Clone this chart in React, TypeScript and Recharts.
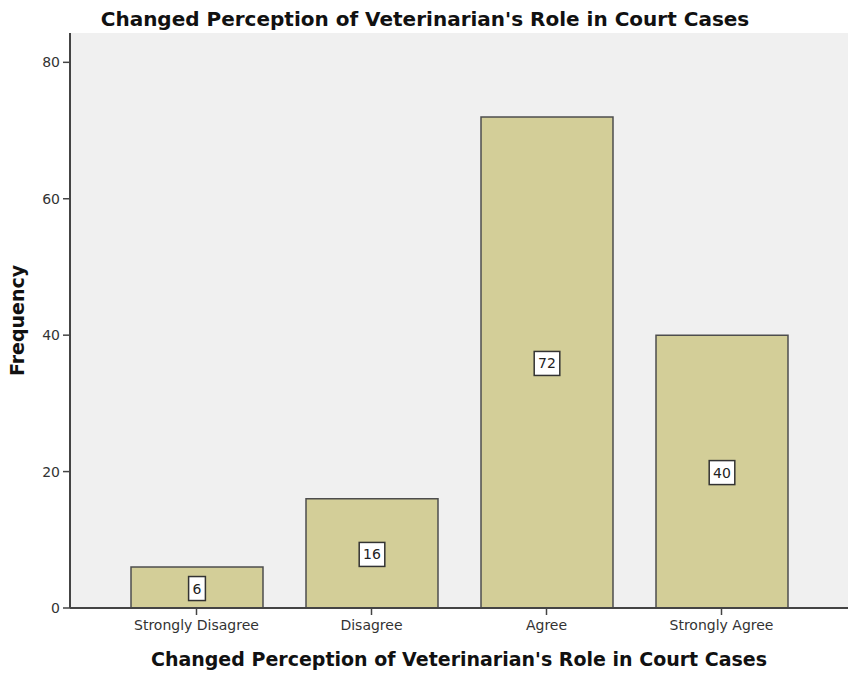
import { BarChart, Bar, XAxis, YAxis, CartesianGrid, LabelList } from "recharts";

const categories = ["Strongly Disagree", "Disagree", "Agree", "Strongly Agree"];
const frequencies = [6, 16, 72, 40];
const yTicks = [0, 20, 40, 60, 80];
const yMax = 84.3;

const chartTitle = "Changed Perception of Veterinarian's Role in Court Cases";
const xTitle = "Changed Perception of Veterinarian's Role in Court Cases";
const yTitle = "Frequency";

const data = categories.map((c, i) => ({ category: c, frequency: frequencies[i] }));

const font = "'DejaVu Sans', Verdana, sans-serif";

function ValueBox(props: any) {
  const vb = props.viewBox || {};
  const x = props.x ?? vb.x;
  const y = props.y ?? vb.y;
  const width = props.width ?? vb.width;
  const height = props.height ?? vb.height;
  const cx = x + width / 2;
  const cy = y + height / 2 + 1;
  const text = String(props.value);
  const w = text.length * 8.8 + 8;
  return (
    <g>
      <rect x={cx - w / 2} y={cy - 12} width={w} height={24} fill="#fff" stroke="#333" strokeWidth={1.5} />
      <text x={cx} y={cy} textAnchor="middle" dominantBaseline="central" fontSize={14} fill="#222" fontFamily={font}>
        {text}
      </text>
    </g>
  );
}

function YTitle(props: any) {
  const vb = props.viewBox || {};
  const cy = vb.y + vb.height / 2;
  return (
    <text x={24} y={cy} transform={`rotate(-90, 24, ${cy})`} textAnchor="middle" fontSize={19} fontWeight="bold" fill="#111" fontFamily={font}>
      {yTitle}
    </text>
  );
}

export default function App() {
  return (
    <div style={{ position: "absolute", left: 0, top: 0, width: 850, height: 674, background: "#fff" }}>
      <div
        style={{
          position: "absolute",
          left: 0,
          top: 9,
          width: 850,
          textAlign: "center",
          fontFamily: font,
          fontWeight: "bold",
          fontSize: 20,
          lineHeight: "20px",
          color: "#111",
        }}
      >
        {chartTitle}
      </div>
      <BarChart width={850} height={674} data={data} margin={{ top: 33, right: 2, bottom: 0, left: 0 }}>
        <CartesianGrid fill="#f0f0f0" horizontal={false} vertical={false} />
        <XAxis
          dataKey="category"
          height={66}
          padding={{ left: 39, right: 39 }}
          axisLine={{ stroke: "#444", strokeWidth: 2 }}
          tickLine={{ stroke: "#444", strokeWidth: 1.5 }}
          tickSize={7}
          tickMargin={5}
          tick={{ fontSize: 14, fill: "#333", fontFamily: font }}
          label={{ value: xTitle, position: "insideBottom", offset: 8, fontSize: 19, fontWeight: "bold", fill: "#111", fontFamily: font }}
        />
        <XAxis
          xAxisId="top"
          dataKey="category"
          orientation="top"
          height={0}
          tick={false}
          tickLine={false}
          axisLine={{ stroke: "#888", strokeWidth: 2 }}
        />
        <YAxis
          width={70}
          domain={[0, yMax]}
          ticks={yTicks}
          allowDataOverflow
          axisLine={{ stroke: "#444", strokeWidth: 2 }}
          tickLine={{ stroke: "#444", strokeWidth: 1.5 }}
          tickSize={7}
          tickMargin={3}
          tick={{ fontSize: 14, fill: "#333", fontFamily: font }}
          label={<YTitle />}
        />
        <YAxis
          yAxisId="right"
          orientation="right"
          width={0}
          domain={[0, yMax]}
          tick={false}
          tickLine={false}
          axisLine={{ stroke: "#888", strokeWidth: 2 }}
        />
        <Bar dataKey="frequency" fill="#d3ce98" stroke="#4d4d4d" strokeWidth={1.5} barSize={132} isAnimationActive={false}>
          <LabelList dataKey="frequency" content={<ValueBox />} />
        </Bar>
      </BarChart>
    </div>
  );
}
